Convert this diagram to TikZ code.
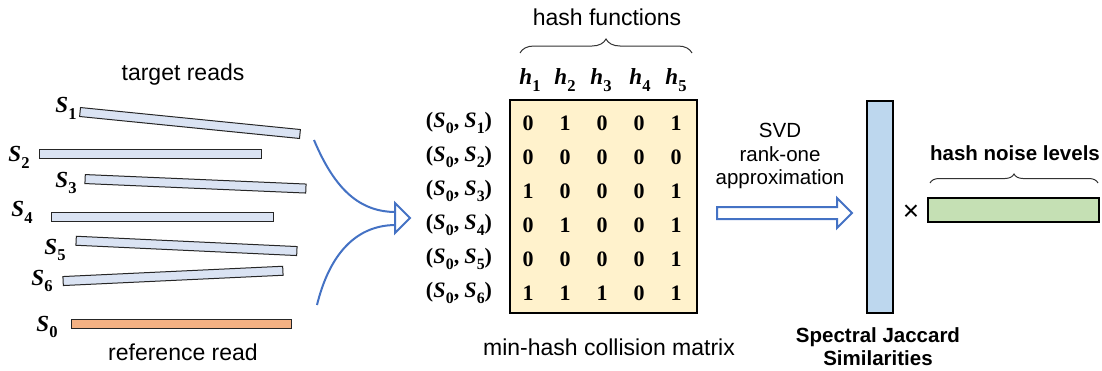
\documentclass[tikz,border=0pt]{standalone}
\usepackage{fontspec}
\setmainfont{Liberation Sans}
\newfontfamily\tms{Liberation Serif}
\usetikzlibrary{decorations.pathreplacing,calc}
\definecolor{readblue}{HTML}{DAE3F3}
\definecolor{refor}{HTML}{F4B183}
\definecolor{matyel}{HTML}{FFF2CC}
\definecolor{svblue}{HTML}{BDD7EE}
\definecolor{nzgreen}{HTML}{C5E0B4}
\definecolor{arrblue}{HTML}{4472C4}
\newcommand\subd[1]{\raisebox{-0.3em}{\scalebox{0.72}{#1}}}
\newcommand\bS[1]{{\tms\bfseries\itshape S}\kern0.3pt{\tms\bfseries\subd{#1}}}
\newcommand\bh[1]{{\tms\bfseries\itshape h}\kern0.3pt{\tms\bfseries\subd{#1}}}
\newcommand\pairlab[1]{{\tms\bfseries(}\bS{0}{\tms\bfseries,\kern5pt}\bS{#1}{\tms\bfseries)}}
\tikzset{
  x=1pt, y=-1pt,
  read/.style={draw=black!85, line width=1pt, fill=readblue, minimum height=9pt, inner sep=0pt, rectangle},
  reflab/.style={font=\fontsize{23}{26}\selectfont, inner sep=0pt},
  txt/.style={font=\fontsize{23}{27}\selectfont, inner sep=0pt},
  stxt/.style={font=\fontsize{20.5}{24}\selectfont, inner sep=0pt},
  btxt/.style={font=\fontsize{20.5}{24}\selectfont\bfseries, inner sep=0pt},
  rowlab/.style={font=\fontsize{22}{25}\selectfont, inner sep=0pt},
  hlab/.style={font=\fontsize{23}{26}\selectfont, inner sep=0pt},
  dig/.style={font=\fontsize{22}{25}\selectfont\tms\bfseries, inner sep=0pt},
  bar/.style={draw=black, line width=2pt, inner sep=0pt, rectangle},
  brc/.style={decorate, decoration={brace, amplitude=#1}, draw=black!80, line width=1pt},
  curv/.style={draw=arrblue, line width=2pt},
}
\begin{document}
\begin{tikzpicture}
\useasboundingbox (0,0) rectangle (1102,370);
% reads
\node[read, minimum width=221pt, rotate=-5.71] (r1) at (190,123) {};
\node[read, minimum width=222pt] (r2) at (150,154) {};
\node[read, minimum width=221pt, rotate=-2.46] (r3) at (195.5,183.8) {};
\node[read, minimum width=222pt] (r4) at (162,217) {};
\node[read, minimum width=221pt, rotate=-2.67] (r5) at (186.5,245.9) {};
\node[read, minimum width=220pt, rotate=2.68] (r6) at (173,275.9) {};
\node[read, fill=refor, minimum width=220pt] (r0) at (181,324.3) {};
\node[reflab] (l1) at (66,108) {\bS{1}};
\node[reflab] (l2) at (19,157) {\bS{2}};
\node[reflab] (l3) at (66,183) {\bS{3}};
\node[reflab] (l4) at (22,212) {\bS{4}};
\node[reflab] (l5) at (55,250) {\bS{5}};
\node[reflab] (l6) at (42,281) {\bS{6}};
\node[reflab] (l0) at (47,327) {\bS{0}};
\node[txt] (tr) at (183,75) {target reads};
\node[txt] (rr) at (183,352) {reference read};
% curved arrows
\coordinate (cs1) at (314,140);
\coordinate (cs2) at (317,305);
\coordinate (tip) at (410,218);
\coordinate (hb1) at (395,203);
\coordinate (hb2) at (395,233);
\coordinate (ce1) at (396,212);
\coordinate (ce2) at (396,225);
\draw[curv] (cs1) .. controls (335,190) and (360,212) .. (ce1);
\draw[curv] (cs2) .. controls (328,260) and (352,225) .. (ce2);
\draw[curv, fill=white, line join=miter] (hb1) -- (tip) -- (hb2) -- cycle;
% matrix
\node[bar, fill=matyel, minimum width=187pt, minimum height=213pt] (M) at (603.5,206.5) {};
\foreach \c/\x in {1/530,2/565,3/601,4/640,5/676}{
  \node[hlab] (h\c) at (\x,80) {\bh{\c}};
}
\draw[brc=14] (520,53) -- (692,53);
\node[txt] (hf) at (607,17) {hash functions};
\foreach \r/\y/\vals in {1/123/{0,1,0,0,1},2/157/{0,0,0,0,0},3/191/{1,0,0,0,1},4/225/{0,1,0,0,1},5/259/{0,0,0,0,1},6/293/{1,1,1,0,1}}{
  \node[rowlab] (p\r) at (459,\y) {\pairlab{\r}};
  \foreach \v [count=\c] in \vals {
    \pgfmathsetmacro{\xx}{{528,565,602,639,676}[\c-1]}
    \node[dig] (m\r\c) at (\xx,\y) {\v};
  }
}
\node[txt] (mc) at (609,347) {min-hash collision matrix};
% SVD block arrow
\coordinate (sa) at (717,213);
\coordinate (sb) at (852,213);
\draw[draw=arrblue, line width=2pt, line join=miter, fill=white]
  ($(sa)+(0,-6)$) -- ($(sb)+(-15,-6)$) -- ($(sb)+(-15,-15)$) -- (sb) --
  ($(sb)+(-15,15)$) -- ($(sb)+(-15,6)$) -- ($(sa)+(0,6)$) -- cycle;
\node[stxt] (svd1) at (780,130) {SVD};
\node[stxt] (svd2) at (780,154) {rank-one};
\node[stxt] (svd3) at (780,179) {approximation};
% spectral vector
\node[bar, fill=svblue, minimum width=26pt, minimum height=212pt] (V) at (880,207) {};
\node[font=\fontsize{28}{30}\selectfont, inner sep=0pt] (x) at (911,213) {×};
\node[bar, fill=nzgreen, minimum width=171pt, minimum height=24pt] (G) at (1013.5,210) {};
\draw[brc=9] (930,183) -- (1098,183);
\node[btxt] (hn) at (1015,153) {hash noise levels};
\node[btxt] (sj1) at (878,337) {Spectral Jaccard};
\node[btxt] (sj2) at (878,358) {Similarities};
\end{tikzpicture}
\end{document}
